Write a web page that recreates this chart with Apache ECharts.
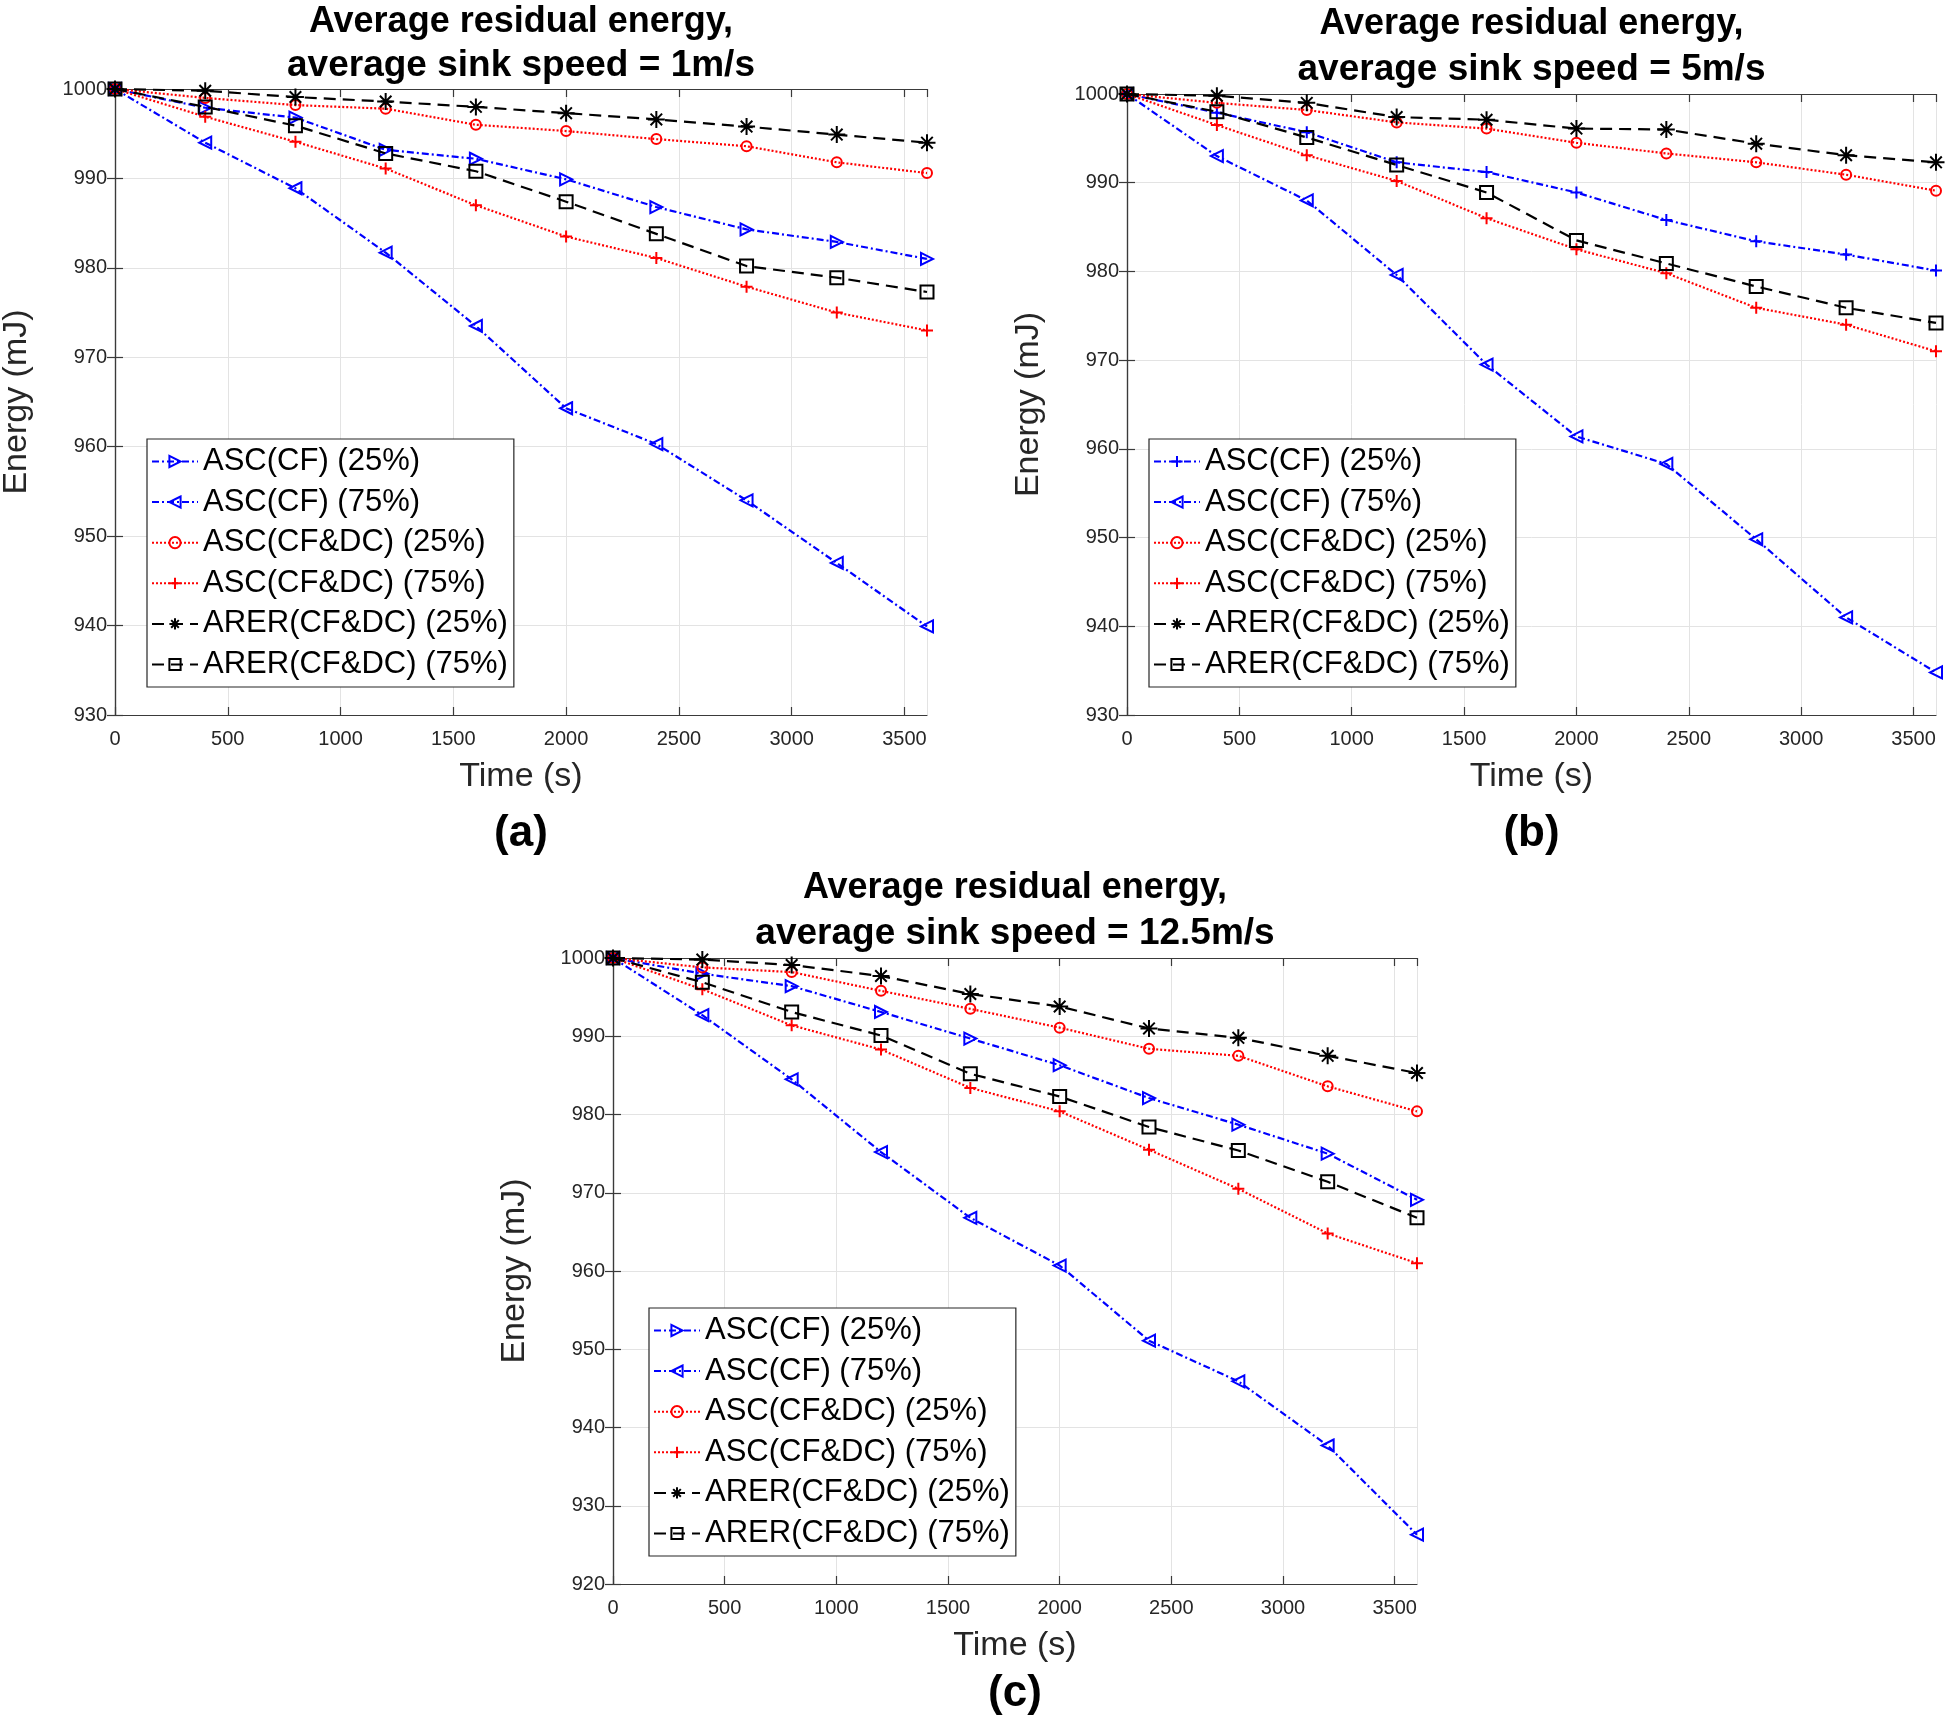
<!DOCTYPE html>
<html>
<head>
<meta charset="utf-8">
<script src="https://cdn.jsdelivr.net/npm/echarts@6/dist/echarts.min.js"></script>
<style>
html,body{margin:0;padding:0;background:#fff;width:1946px;height:1721px;overflow:hidden;}
.c{position:absolute;left:0;top:0;width:1946px;height:1721px;}
</style>
</head>
<body>
<div id="ca" class="c"></div>
<div id="cb" class="c"></div>
<div id="cc" class="c"></div>
<script>
// ---------------- DATA ----------------
const timeS = [0, 400, 800, 1200, 1600, 2000, 2400, 2800, 3200, 3600];
const seriesNames = ['ASC(CF) (25%)', 'ASC(CF) (75%)', 'ASC(CF&DC) (25%)', 'ASC(CF&DC) (75%)', 'ARER(CF&DC) (25%)', 'ARER(CF&DC) (75%)'];
const titleLine1 = 'Average residual energy,';
const titlesLine2 = ['average sink speed = 1m/s', 'average sink speed = 5m/s', 'average sink speed = 12.5m/s'];
const panelLabels = ['(a)', '(b)', '(c)'];
const xAxisName = 'Time (s)';
const yAxisName = 'Energy (mJ)';

// panel (a): sink speed 1 m/s
const a_ascCF25   = [1000, 997.9, 996.8, 993.2, 992.2, 989.9, 986.8, 984.3, 982.9, 981.0];
const a_ascCF75   = [1000, 994.0, 988.9, 981.7, 973.5, 964.3, 960.3, 954.0, 947.0, 939.9];
const a_ascCFDC25 = [1000, 999.0, 998.2, 997.8, 996.0, 995.3, 994.4, 993.6, 991.8, 990.6];
const a_ascCFDC75 = [1000, 996.9, 994.1, 991.1, 987.0, 983.5, 981.1, 977.9, 975.0, 973.0];
const a_arer25    = [1000, 999.8, 999.1, 998.6, 998.0, 997.3, 996.6, 995.8, 994.9, 994.0];
const a_arer75    = [1000, 998.0, 995.9, 992.8, 990.8, 987.4, 983.8, 980.2, 978.9, 977.3];

// panel (b): sink speed 5 m/s
const b_ascCF25   = [1000, 997.9, 995.7, 992.3, 991.2, 988.9, 985.8, 983.4, 981.9, 980.1];
const b_ascCF75   = [1000, 993.0, 988.0, 979.6, 969.5, 961.4, 958.3, 949.8, 941.0, 934.8];
const b_ascCFDC25 = [1000, 999.0, 998.2, 996.8, 996.1, 994.5, 993.3, 992.3, 990.9, 989.1];
const b_ascCFDC75 = [1000, 996.5, 993.1, 990.2, 986.0, 982.5, 979.8, 975.9, 974.0, 971.0];
const b_arer25    = [1000, 999.8, 999.0, 997.4, 997.1, 996.1, 996.0, 994.4, 993.1, 992.3];
const b_arer75    = [1000, 998.0, 995.1, 992.0, 988.9, 983.5, 980.9, 978.3, 975.9, 974.2];

// panel (c): sink speed 12.5 m/s
const c_ascCF25   = [1000, 998.0, 996.4, 993.1, 989.7, 986.3, 982.1, 978.7, 975.0, 969.1];
const c_ascCF75   = [1000, 992.7, 984.5, 975.2, 966.8, 960.7, 951.1, 945.9, 937.7, 926.3];
const c_ascCFDC25 = [1000, 998.8, 998.2, 995.8, 993.5, 991.1, 988.4, 987.5, 983.6, 980.4];
const c_ascCFDC75 = [1000, 996.0, 991.4, 988.3, 983.4, 980.4, 975.5, 970.5, 964.8, 961.0];
const c_arer25    = [1000, 999.8, 999.1, 997.7, 995.4, 993.8, 991.0, 989.8, 987.5, 985.3];
const c_arer75    = [1000, 996.9, 993.1, 990.1, 985.2, 982.3, 978.4, 975.4, 971.4, 966.8];

const yTicksAB = {min: 930, max: 1000, interval: 10};
const yTicksC  = {min: 920, max: 1000, interval: 10};
const xTicks   = {min: 0, max: 3600, interval: 500};

// ---------------- STYLE ----------------
const FONT = '"Liberation Sans", Arial, Helvetica, sans-serif';
const SYM = {
  right: 'path://M0,0L10,5L0,10Z',
  left: 'path://M10,0L0,5L10,10Z',
  plus: 'path://M5,0L5,10M0,5L10,5',
  star: 'path://M5,0L5,10M0,5L10,5M1.6,1.6L8.4,8.4M8.4,1.6L1.6,8.4',
  circle: 'circle',
  square: 'rect'
};
const styleDefs = [
  {color: '#0000ff', dash: [7, 3, 2, 3], sym: SYM.right, size: 12},
  {color: '#0000ff', dash: [7, 3, 2, 3], sym: SYM.left, size: 12},
  {color: '#ff0000', dash: [2, 2], sym: SYM.circle, size: 10},
  {color: '#ff0000', dash: [2, 2], sym: SYM.plus, size: 12},
  {color: '#000000', dash: [12, 7], sym: SYM.star, size: 17},
  {color: '#000000', dash: [12, 7], sym: SYM.square, size: 13}
];

function makeOption(p) {
  const g = p.grid;
  const cx = g.left + g.width / 2;
  const cy = g.top + g.height / 2;
  const series = p.data.map((d, i) => {
    const s = styleDefs[i];
    const sym = (i === 0 && p.firstSym) ? p.firstSym : s.sym;
    return {
      type: 'line',
      name: seriesNames[i],
      data: timeS.map((t, k) => [t, d[k]]),
      symbol: sym,
      symbolSize: s.size,
      showAllSymbol: true,
      clip: false,
      z: 3 + i,
      lineStyle: {color: s.color, width: 2.2, type: s.dash},
      itemStyle: {color: 'rgba(255,255,255,0)', borderColor: s.color, borderWidth: 2},
      emphasis: {disabled: true},
      animation: false
    };
  });
  const axisLine = {show: true, lineStyle: {color: '#3a3a3a', width: 1.2}};
  const tick = {show: true, inside: true, length: 8, lineStyle: {color: '#3a3a3a', width: 1.2}};
  const plain = v => String(v);
  return {
    animation: false,
    textStyle: {fontFamily: FONT},
    grid: {left: g.left, top: g.top, width: g.width, height: g.height, containLabel: false},
    xAxis: [
      {type: 'value', position: 'bottom', min: xTicks.min, max: xTicks.max, interval: xTicks.interval,
        axisLine, axisTick: tick,
        axisLabel: {show: true, fontSize: 20, color: '#262626', margin: 14, fontFamily: FONT, showMaxLabel: false, formatter: plain},
        splitLine: {show: true, lineStyle: {color: '#e3e3e3', width: 1}}},
      {type: 'value', position: 'top', min: xTicks.min, max: xTicks.max, interval: xTicks.interval,
        axisLine, axisTick: tick, axisLabel: {show: false}, splitLine: {show: false}}
    ],
    yAxis: [
      {type: 'value', position: 'left', min: p.y.min, max: p.y.max, interval: p.y.interval,
        axisLine, axisTick: tick,
        axisLabel: {show: true, fontSize: 20, color: '#262626', margin: 8, fontFamily: FONT, formatter: plain},
        splitLine: {show: true, lineStyle: {color: '#e3e3e3', width: 1}}},
      {type: 'value', position: 'right', min: p.y.min, max: p.y.max, interval: p.y.interval,
        axisLine, axisTick: tick, axisLabel: {show: false}, splitLine: {show: false}}
    ],
    legend: {
      show: true,
      orient: 'vertical',
      left: p.legend.left,
      top: p.legend.top,
      padding: [7, 6, 7, 4],
      itemGap: 9.6,
      itemWidth: 46,
      itemHeight: 14,
      backgroundColor: '#ffffff',
      borderColor: '#262626',
      borderWidth: 1.2,
      borderRadius: 0,
      selectedMode: false,
      textStyle: {fontSize: 31, color: '#000', fontFamily: FONT, lineHeight: 30, padding: [0, 0, 0, 0]},
      data: seriesNames
    },
    graphic: [
      {type: 'text', x: cx, y: p.titleY[0], silent: true,
        style: {text: titleLine1, fill: '#000', font: 'bold 36px ' + FONT, textAlign: 'center', textVerticalAlign: 'middle', align: 'center', verticalAlign: 'middle'}},
      {type: 'text', x: cx, y: p.titleY[1], silent: true,
        style: {text: p.title2, fill: '#000', font: 'bold 37px ' + FONT, textAlign: 'center', textVerticalAlign: 'middle', align: 'center', verticalAlign: 'middle'}},
      {type: 'text', x: cx, y: g.top + g.height + 62, silent: true,
        style: {text: xAxisName, fill: '#262626', font: '34px ' + FONT, textAlign: 'center', textVerticalAlign: 'middle', align: 'center', verticalAlign: 'middle'}},
      {type: 'text', x: g.left - 98, y: cy, rotation: Math.PI / 2, silent: true,
        style: {text: yAxisName, fill: '#262626', font: '34px ' + FONT, textAlign: 'center', textVerticalAlign: 'middle', align: 'center', verticalAlign: 'middle'}},
      {type: 'text', x: cx, y: p.labelY, silent: true,
        style: {text: p.label, fill: '#000', font: 'bold 44px ' + FONT, textAlign: 'center', textVerticalAlign: 'middle', align: 'center', verticalAlign: 'middle'}}
    ],
    series
  };
}

const panels = [
  {id: 'ca', grid: {left: 115, top: 89, width: 812, height: 626}, y: yTicksAB,
    data: [a_ascCF25, a_ascCF75, a_ascCFDC25, a_ascCFDC75, a_arer25, a_arer75],
    legend: {left: 147, top: 439}, titleY: [22, 66], title2: titlesLine2[0], label: panelLabels[0], labelY: 834},
  {id: 'cb', grid: {left: 1127, top: 94, width: 809, height: 621}, y: yTicksAB, firstSym: SYM.plus,
    data: [b_ascCF25, b_ascCF75, b_ascCFDC25, b_ascCFDC75, b_arer25, b_arer75],
    legend: {left: 1149, top: 439}, titleY: [24, 70], title2: titlesLine2[1], label: panelLabels[1], labelY: 834},
  {id: 'cc', grid: {left: 613, top: 958, width: 804, height: 626}, y: yTicksC,
    data: [c_ascCF25, c_ascCF75, c_ascCFDC25, c_ascCFDC75, c_arer25, c_arer75],
    legend: {left: 649, top: 1308}, titleY: [888, 934], title2: titlesLine2[2], label: panelLabels[2], labelY: 1694}
];

panels.forEach(p => {
  const chart = echarts.init(document.getElementById(p.id), null, {renderer: 'canvas', width: 1946, height: 1721});
  chart.setOption(makeOption(p));
});
</script>
</body>
</html>
